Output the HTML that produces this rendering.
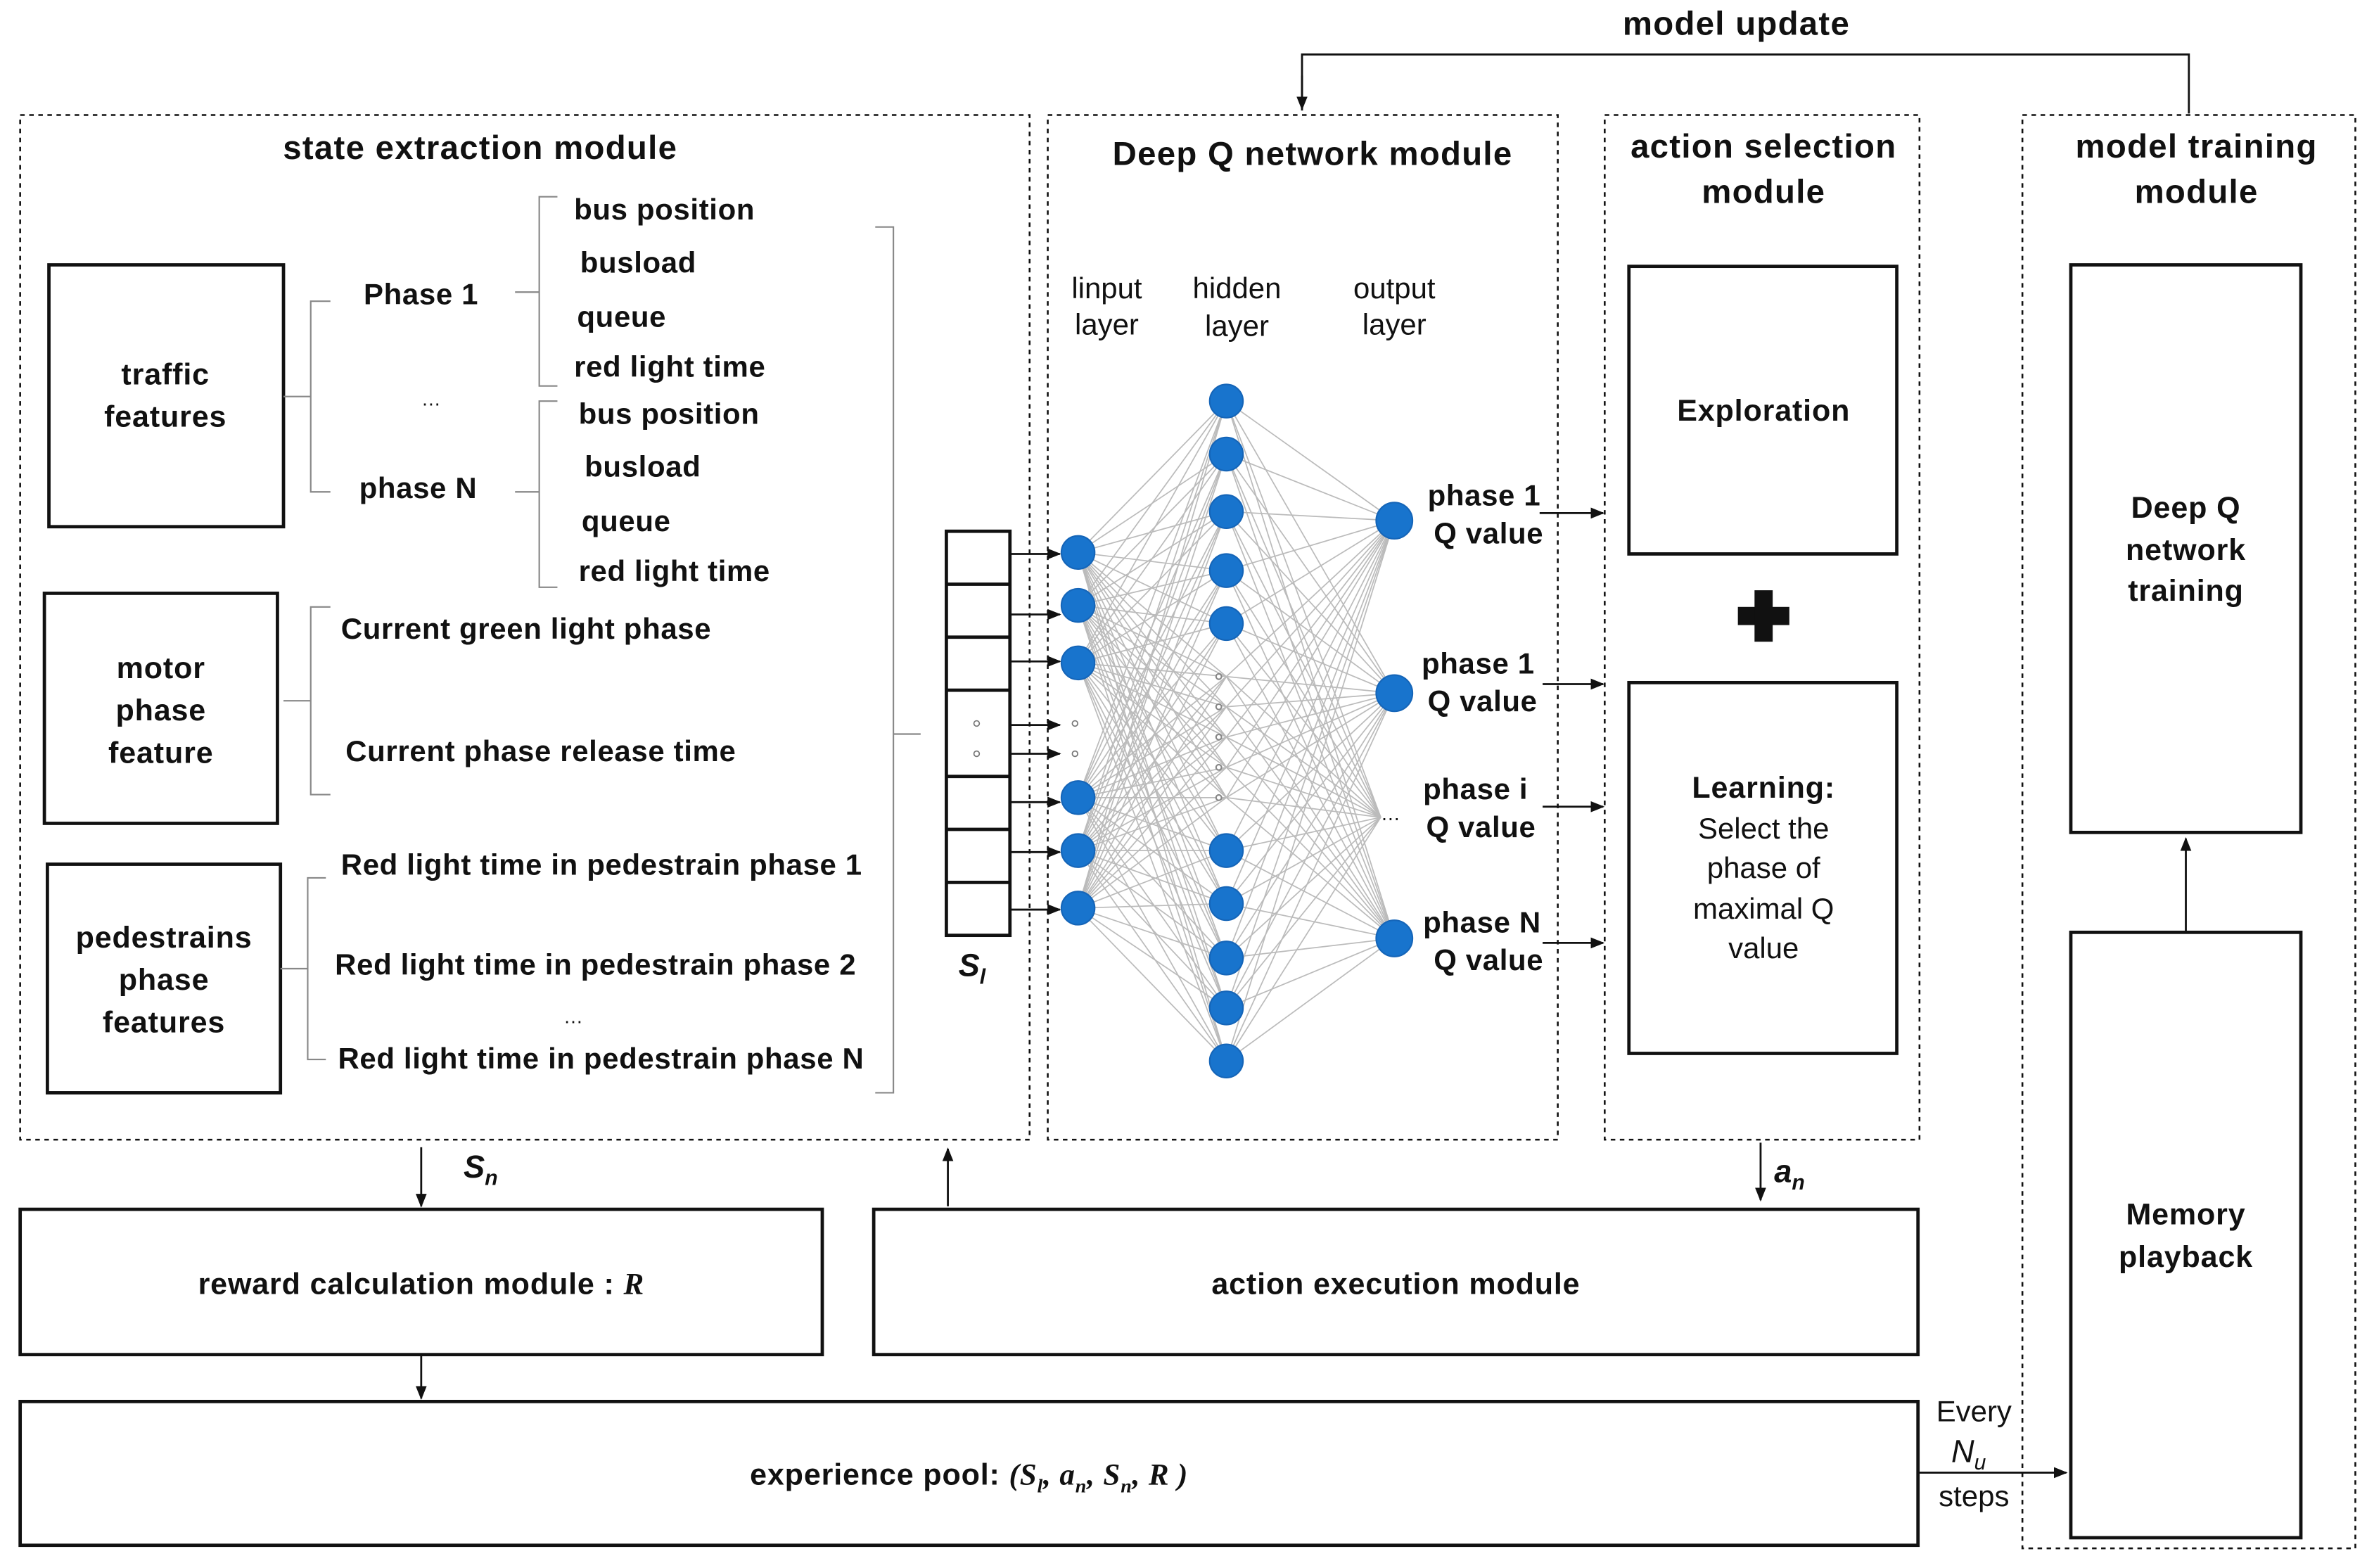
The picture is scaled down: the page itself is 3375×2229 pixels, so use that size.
<!DOCTYPE html>
<html><head><meta charset="utf-8"><style>
html,body{margin:0;padding:0;background:#fff}
svg{display:block}
text{font-family:"Liberation Sans",sans-serif;fill:#111}
.b{font-weight:bold}
</style></head><body>
<svg id="s" width="3375" height="2229" viewBox="0 0 1568 1036" xmlns="http://www.w3.org/2000/svg">
<defs><marker id="ar" viewBox="0 0 10 10" refX="9" refY="5" markerWidth="7" markerHeight="7" orient="auto"><path d="M0,1 L10,5 L0,9z" fill="#111"/></marker></defs>
<g fill="none" stroke="#111" stroke-width="1.2" stroke-dasharray="3,3">
<rect x="13" y="76" width="667" height="677"/>
<rect x="692" y="76" width="337" height="677"/>
<rect x="1060" y="76" width="208" height="677"/>
<rect x="1336" y="76" width="220" height="947"/>
</g>
<g fill="none" stroke="#111" stroke-width="2.2">
<rect x="32" y="175" width="155" height="173"/>
<rect x="29" y="392" width="154" height="152"/>
<rect x="31" y="571" width="154" height="151"/>
<rect x="1076" y="176" width="177" height="190"/>
<rect x="1076" y="451" width="177" height="245"/>
<rect x="1368" y="175" width="152" height="375"/>
<rect x="1368" y="616" width="152" height="400"/>
<rect x="13" y="799" width="530" height="96"/>
<rect x="577" y="799" width="690" height="96"/>
<rect x="13" y="926" width="1254" height="95"/>
<rect x="625" y="351" width="42" height="267"/>
<path d="M625 386H667M625 421H667M625 456H667M625 513H667M625 548H667M625 583H667"/>
</g>
<g fill="none" stroke="#111" stroke-width="1.3">
<path d="M860 73V36H1446V75" />
<path d="M860 50V72" marker-end="url(#ar)"/>
<path d="M278 758V797" marker-end="url(#ar)"/>
<path d="M626 797V759" marker-end="url(#ar)"/>
<path d="M1163 755V793" marker-end="url(#ar)"/>
<path d="M278 896V924" marker-end="url(#ar)"/>
<path d="M1268 973H1365" marker-end="url(#ar)"/>
<path d="M1444 616V554" marker-end="url(#ar)"/>
<path d="M1017 339H1059" marker-end="url(#ar)"/>
<path d="M1019 452H1059" marker-end="url(#ar)"/>
<path d="M1019 533H1059" marker-end="url(#ar)"/>
<path d="M1019 623H1059" marker-end="url(#ar)"/>
<path d="M667 366H700" marker-end="url(#ar)"/>
<path d="M667 406H700" marker-end="url(#ar)"/>
<path d="M667 437H700" marker-end="url(#ar)"/>
<path d="M667 479H700" marker-end="url(#ar)"/>
<path d="M667 498H700" marker-end="url(#ar)"/>
<path d="M667 530H700" marker-end="url(#ar)"/>
<path d="M667 563H700" marker-end="url(#ar)"/>
<path d="M667 601H700" marker-end="url(#ar)"/>
</g>
<g fill="none" stroke="#888" stroke-width="1">
<path d="M218 199H205V325H218M187 262H205"/>
<path d="M368 130H356V255H368M340 193H356"/>
<path d="M368 265H356V388H368M340 325H356"/>
<path d="M218 401H205V525H218M187 463H205"/>
<path d="M215 580H203V700H215M185 640H203"/>
<path d="M578 150H590V722H578M590 485H608"/>
</g>
<g id="nn" stroke="#bbb" stroke-width="0.8"></g>
<g id="nodes" fill="#1874cd" stroke="#1565b8"></g>
<g font-size="22" class="b" text-anchor="middle" letter-spacing="0.6">
<text x="1147" y="23">model update</text>
<text x="317" y="105">state extraction module</text>
<text x="867" y="109">Deep Q network module</text>
<text x="1165" y="104">action selection</text>
<text x="1165" y="134">module</text>
<text x="1451" y="104">model training</text>
<text x="1451" y="134">module</text>
</g>
<g font-size="20" class="b" text-anchor="middle" letter-spacing="0.4">
<text x="109" y="254">traffic</text><text x="109" y="282">features</text>
<text x="106" y="448">motor</text><text x="106" y="476">phase</text><text x="106" y="504">feature</text>
<text x="108" y="626">pedestrains</text><text x="108" y="654">phase</text><text x="108" y="682">features</text>
<text x="1165" y="278">Exploration</text>
<text x="1444" y="342">Deep Q</text><text x="1444" y="370">network</text><text x="1444" y="397">training</text>
<text x="1444" y="809">Memory</text><text x="1444" y="837">playback</text>
<text x="278" y="855">reward calculation module : <tspan font-family="Liberation Serif" font-style="italic">R</tspan></text>
<text x="922" y="855">action execution module</text>
<text x="640" y="981">experience pool:  <tspan font-family="Liberation Serif" font-style="italic">(S<tspan font-size="13" dy="5">l</tspan><tspan dy="-5">, a</tspan><tspan font-size="13" dy="5">n</tspan><tspan dy="-5">, S</tspan><tspan font-size="13" dy="5">n</tspan><tspan dy="-5">, R )</tspan></tspan></text>
<text x="1165" y="527">Learning:</text>
</g>
<g font-size="19.5" class="b" letter-spacing="0.3">
<text x="240" y="201">Phase 1</text>
<text x="237" y="329">phase N</text>
<text x="379" y="145">bus position</text>
<text x="383" y="180">busload</text>
<text x="381" y="216">queue</text>
<text x="379" y="249">red light time</text>
<text x="382" y="280">bus position</text>
<text x="386" y="315">busload</text>
<text x="384" y="351">queue</text>
<text x="382" y="384">red light time</text>
<text x="225" y="422">Current green light phase</text>
<text x="228" y="503">Current phase release time</text>
<text x="225" y="578">Red light time in pedestrain phase 1</text>
<text x="221" y="644">Red light time in pedestrain phase 2</text>
<text x="223" y="706">Red light time in pedestrain phase N</text>
<text x="943" y="334">phase 1</text><text x="947" y="359">Q value</text>
<text x="939" y="445">phase 1</text><text x="943" y="470">Q value</text>
<text x="940" y="528">phase i</text><text x="942" y="553">Q value</text>
<text x="940" y="616">phase N</text><text x="947" y="641">Q value</text>
</g>
<g font-size="13"><text x="278" y="268">…</text><text x="372" y="676">…</text><text x="912" y="542">…</text></g>
<g font-size="19.5" text-anchor="middle" fill="#222">
<text x="731" y="197">linput</text><text x="731" y="221">layer</text>
<text x="817" y="197">hidden</text><text x="817" y="222">layer</text>
<text x="921" y="197">output</text><text x="921" y="221">layer</text>
<text x="1165" y="554">Select the</text><text x="1165" y="580">phase of</text>
<text x="1165" y="607">maximal Q</text><text x="1165" y="633">value</text>
<text x="1304" y="939">Every</text><text x="1304" y="995">steps</text>
</g>
<g font-family="Liberation Serif" font-style="italic" font-weight="bold" font-size="21">
<text x="306" y="778">S<tspan font-size="14" dy="5">n</tspan></text>
<text x="1172" y="781">a<tspan font-size="14" dy="5">n</tspan></text>
<text x="633" y="645">S<tspan font-size="14" dy="5">l</tspan></text>
<text x="1289" y="966" font-weight="normal">N<tspan font-size="14" dy="5">u</tspan></text>
</g>
<g transform="translate(1165,407)" fill="#111"><rect x="-17" y="-6" width="34" height="12"/><rect x="-6" y="-17" width="12" height="34"/></g>
<g fill="none" stroke="#777" stroke-width="0.8">
<circle cx="645" cy="478" r="1.8"/><circle cx="645" cy="498" r="1.8"/>
<circle cx="710" cy="478" r="1.8"/><circle cx="710" cy="498" r="1.8"/>
</g>
</svg>
<script>
var ns="http://www.w3.org/2000/svg";
var I=[365,400,438,527,562,600],H=[265,300,338,377,412,447,467,487,507,527,562,597,633,666,701],O=[344,458,540,620];
var g=document.getElementById('nn'),n=document.getElementById('nodes');
function L(a,b,c,d){var l=document.createElementNS(ns,'line');l.setAttribute('x1',a);l.setAttribute('y1',b);l.setAttribute('x2',c);l.setAttribute('y2',d);g.appendChild(l);}
I.forEach(function(a){H.forEach(function(b){L(712,a,810,b);});});
H.forEach(function(a){O.forEach(function(b){L(810,a,(b==540?912:921),b);});});
function C(x,y,r,f){var c=document.createElementNS(ns,'ellipse');c.setAttribute('cx',x);c.setAttribute('cy',y);c.setAttribute('rx',r);c.setAttribute('ry',r);if(f){c.setAttribute('fill','#fff');c.setAttribute('stroke','#888');}n.appendChild(c);}
I.forEach(function(y){C(712,y,11);});
H.forEach(function(y,i){if(i>=5&&i<=9)C(805,y,1.8,1);else C(810,y,11);});
[344,458,620].forEach(function(y){C(921,y,12);});
</script>
</body></html>
